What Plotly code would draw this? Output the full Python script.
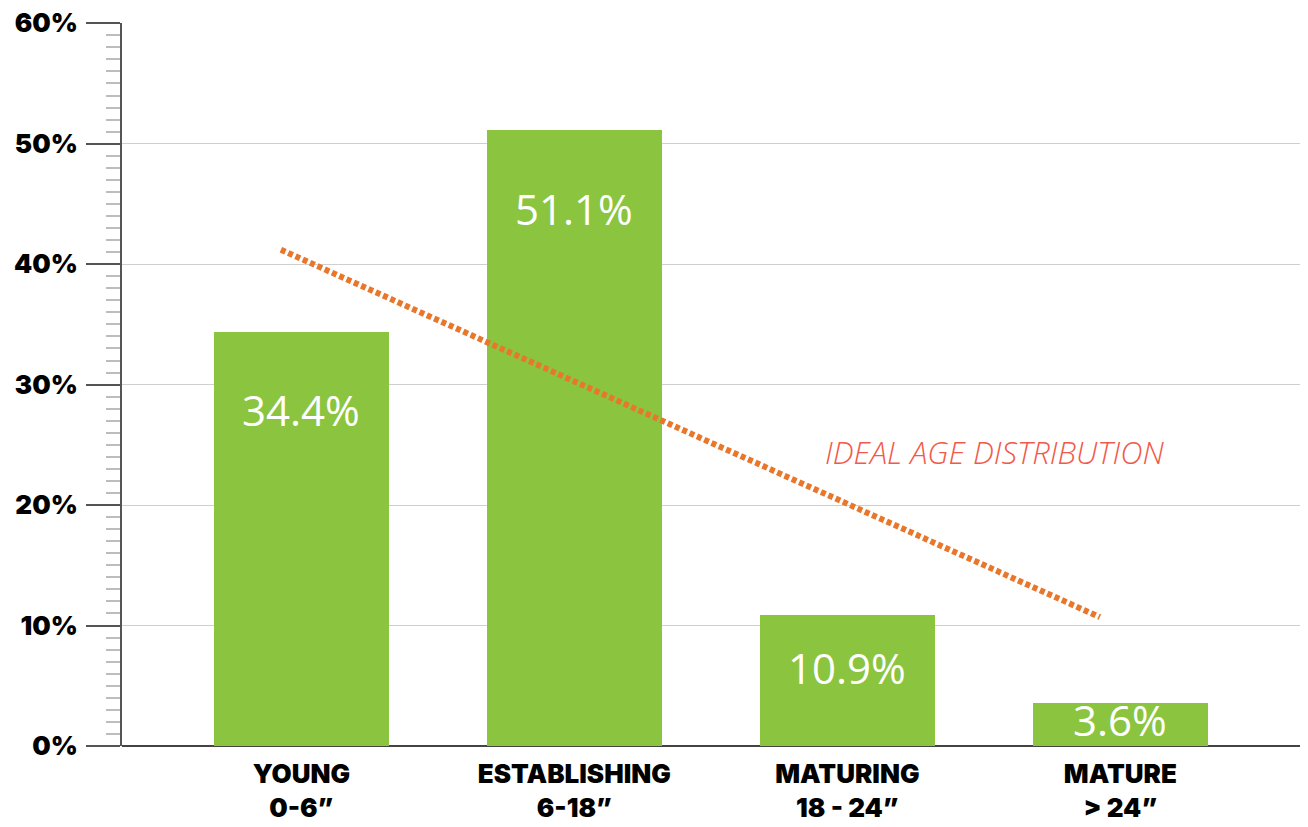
import plotly.graph_objects as go

categories = ["YOUNG<br>0-6”", "ESTABLISHING<br>6-18”", "MATURING<br>18 - 24”", "MATURE<br>> 24”"]
values = [34.4, 51.1, 10.9, 3.6]
ideal_x = [-0.075, 2.925]
ideal_y = [41.2, 10.7]
y_ticks = [0, 10, 20, 30, 40, 50, 60]
y_ticktext = [f"{v}%" for v in y_ticks]
x_pos = list(range(len(categories)))

fig = go.Figure()
fig.add_trace(go.Bar(x=x_pos, y=values, width=0.64, marker=dict(color="#8BC540", line=dict(width=0)),
                     hoverinfo="skip"))
fig.add_trace(go.Scatter(x=ideal_x, y=ideal_y, mode="lines",
                         line=dict(color="#E8762B", width=6, dash="5px,3px"), hoverinfo="skip"))

for xi, v in zip(x_pos, values):
    fig.add_annotation(x=xi, y=max(v - 6.5, v * 0.6), text=f"{v}%", showarrow=False,
                       font=dict(family="Open Sans", size=42, color="white"))

fig.add_annotation(x=2.54, y=24.4, text="<i>IDEAL AGE DISTRIBUTION</i>", showarrow=False,
                   font=dict(family="Open Sans", size=31, color="#F15A4A", weight=300))

# page body has an 8px default margin; figure is sized so it ends at the window edge
fig.update_layout(
    width=1300, height=819, showlegend=False,
    plot_bgcolor="white", paper_bgcolor="white",
    margin=dict(l=114, r=8, t=15, b=81, autoexpand=False),
    bargap=0,
)
fig.update_xaxes(range=[-0.657, 3.658], tickvals=x_pos, ticktext=categories,
                 showgrid=False, zeroline=False, showline=False, ticks="",
                 ticklabelstandoff=10, automargin=False,
                 tickfont=dict(family="Inter", size=26, color="black", weight=900))
fig.update_yaxes(range=[0, 60.02], tickvals=y_ticks, ticktext=y_ticktext,
                 showgrid=True, gridcolor="#CFCFCF", gridwidth=1,
                 zeroline=True, zerolinecolor="#444", zerolinewidth=2,
                 showline=True, linecolor="#555", linewidth=2,
                 ticks="outside", ticklen=34, tickcolor="#555", tickwidth=2,
                 ticklabelstandoff=3, automargin=False, ticklabeloverflow="allow",
                 tickfont=dict(family="Inter", size=26, color="black", weight=900),
                 minor=dict(dtick=1, ticks="outside", ticklen=14, tickcolor="#BDBDBD", tickwidth=1.5, showgrid=False))

fig.write_html("out.html")
